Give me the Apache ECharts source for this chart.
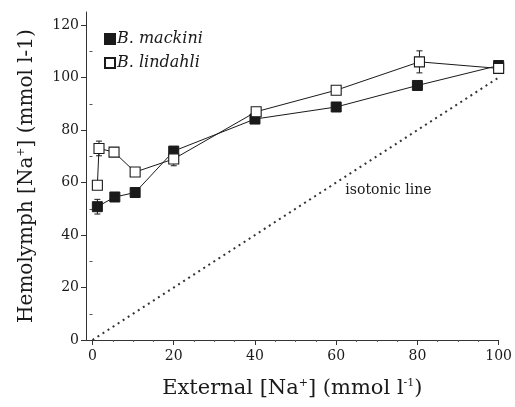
<!DOCTYPE html>
<html><head><meta charset="utf-8">
<script src="https://cdn.jsdelivr.net/npm/echarts@6/dist/echarts.min.js"></script>
<style>html,body{margin:0;padding:0;background:#fff}#c{width:515px;height:407px}</style>
</head><body><div id="c"></div>
<script>
// Data
const mackiniX = [1.2, 5.5, 10.5, 20, 40, 60, 80, 100];
const mackiniY = [50.8, 54.5, 56.2, 72, 84.2, 88.8, 97, 104.6];
const mackiniErr = [2.8, 1, 0.6, 1.5, 0.6, 0.6, 0.6, 1];
const lindahliX = [1.2, 1.6, 5.3, 10.5, 20, 40.3, 60, 80.5, 100];
const lindahliY = [59, 73, 71.6, 64, 69, 87, 95.2, 106, 103.5];
const lindahliErr = [0, 2.8, 0.6, 0.6, 2.6, 1, 0.6, 4.2, 1];
const isoX = [0, 100];
const isoY = [0, 100];
const isoLabelPos = [62, 57];
const xMajorTicks = [0, 20, 40, 60, 80, 100];
const xMinorTicks = [5,10,15,25,30,35,45,50,55,65,70,75,85,90,95];
const yMajorTicks = [0, 20, 40, 60, 80, 100, 120];
const yMinorTicks = [10, 30, 50, 70, 90, 110];

const zip = (xs, ys) => xs.map((x, i) => [x, ys[i]]);
const zip3 = (xs, ys, es) => xs.map((x, i) => [x, ys[i], es[i]]);

const FONT = '"DejaVu Serif", "Liberation Serif", serif';
const INK = '#1a1a1a';

function errRender(params, api) {
  const x = api.value(0), y = api.value(1), e = api.value(2);
  if (!(e > 0)) return null;
  const t = api.coord([x, y + e]);
  const b = api.coord([x, y - e]);
  const w = 3;
  const st = { stroke: INK, lineWidth: 1 };
  return { type: 'group', children: [
    { type: 'line', shape: { x1: t[0], y1: t[1], x2: b[0], y2: b[1] }, style: st },
    { type: 'line', shape: { x1: t[0]-w, y1: t[1], x2: t[0]+w, y2: t[1] }, style: st },
    { type: 'line', shape: { x1: b[0]-w, y1: b[1], x2: b[0]+w, y2: b[1] }, style: st }
  ]};
}

const chart = echarts.init(document.getElementById('c'), null, { renderer: 'canvas' });
const richX = {
  n: { fontFamily: FONT, fontSize: 21, color: INK },
  s: { fontFamily: FONT, fontSize: 11, color: INK, verticalAlign: 'top', padding: [0,0,11,0] }
};
const richY = {
  n: { fontFamily: FONT, fontSize: 20, color: INK },
  s: { fontFamily: FONT, fontSize: 11, color: INK, verticalAlign: 'top', padding: [0,0,10,0] }
};
chart.setOption({
  animation: false,
  backgroundColor: '#fff',
  grid: { left: 86, right: 16, top: 12, bottom: 67, containLabel: false },
  legend: {
    orient: 'vertical', left: 99, top: 26, itemWidth: 10, itemHeight: 10, itemGap: 8,
    icon: 'rect',
    data: ['B. mackini', 'B. lindahli'],
    textStyle: { fontFamily: FONT, fontStyle: 'italic', fontSize: 16, color: INK, padding: [0,0,0,-3] }
  },
  xAxis: [{
    type: 'value', min: -1.6, max: 100,
    axisLine: { show: true, onZero: false, lineStyle: { color: '#333', width: 1 } },
    splitLine: { show: false },
    axisTick: { show: true, length: 5, customValues: xMajorTicks, lineStyle: { color: '#333' } },
    axisLabel: { customValues: xMajorTicks, fontFamily: FONT, fontSize: 14, color: INK, margin: 9 },
    name: '{n|External [Na}{s|+}{n|] (mmol l}{s|-1}{n|)}',
    nameLocation: 'middle', nameGap: 38,
    nameTextStyle: { rich: richX }
  }, {
    type: 'value', min: -1.6, max: 100, position: 'bottom',
    axisLine: { show: false }, splitLine: { show: false },
    axisTick: { show: true, length: 2, customValues: xMinorTicks, lineStyle: { color: '#555' } },
    axisLabel: { show: false }
  }],
  yAxis: [{
    type: 'value', min: 0, max: 125,
    axisLine: { show: true, onZero: false, lineStyle: { color: '#333', width: 1 } },
    splitLine: { show: false },
    axisTick: { show: true, length: 5, customValues: yMajorTicks, lineStyle: { color: '#333' } },
    axisLabel: { customValues: yMajorTicks, fontFamily: FONT, fontSize: 14, color: INK, margin: 7 },
    name: '{n|Hemolymph [Na}{s|+}{n|] (mmol l-1)}',
    nameLocation: 'middle', nameGap: 49,
    nameTextStyle: { rich: richY }
  }, {
    type: 'value', min: 0, max: 125, position: 'left',
    axisLine: { show: false }, splitLine: { show: false },
    axisTick: { show: true, length: 3, customValues: yMinorTicks, lineStyle: { color: '#555' } },
    axisLabel: { show: false }
  }],
  series: [
    {
      name: 'isotonic', type: 'line', data: zip(isoX, isoY), symbol: 'none', silent: true,
      lineStyle: { color: '#333', width: 2, type: [2, 4] }
    },
    {
      name: 'isoLabel', type: 'scatter', data: [isoLabelPos], symbol: 'circle', symbolSize: 2,
      silent: true, itemStyle: { color: 'rgba(0,0,0,0)', opacity: 1 },
      label: { show: true, position: 'right', distance: 0, formatter: 'isotonic line', fontFamily: FONT, fontSize: 14, color: INK, opacity: 1 }
    },
    {
      name: 'err1', type: 'custom', renderItem: errRender, data: zip3(mackiniX, mackiniY, mackiniErr), z: 3, silent: true
    },
    {
      name: 'err2', type: 'custom', renderItem: errRender, data: zip3(lindahliX, lindahliY, lindahliErr), z: 3, silent: true
    },
    {
      name: 'B. mackini', type: 'line', data: zip(mackiniX, mackiniY),
      symbol: 'rect', symbolSize: 10, z: 4,
      lineStyle: { color: INK, width: 1 },
      itemStyle: { color: INK, borderColor: INK, borderWidth: 1 }
    },
    {
      name: 'B. lindahli', type: 'line', data: zip(lindahliX, lindahliY),
      symbol: 'rect', symbolSize: 10, z: 5,
      lineStyle: { color: INK, width: 1 },
      itemStyle: { color: '#fff', borderColor: INK, borderWidth: 1.1 }
    }
  ]
});
</script></body></html>
